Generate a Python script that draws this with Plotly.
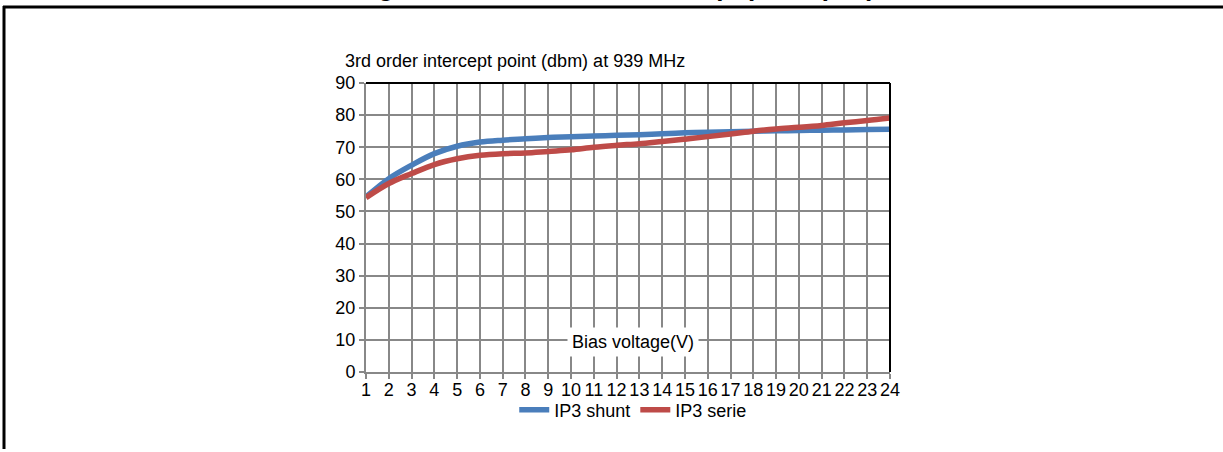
import plotly.graph_objects as go

# ---- data ----
bias_voltage = list(range(1, 25))
ip3_shunt = [54.5, 60.2, 64.4, 68.0, 70.3, 71.6, 72.2, 72.6, 73.0, 73.3, 73.5, 73.7,
             73.9, 74.2, 74.5, 74.7, 74.8, 75.0, 75.1, 75.2, 75.3, 75.4, 75.5, 75.6]
ip3_serie = [54.3, 58.7, 61.8, 64.6, 66.4, 67.5, 68.0, 68.2, 68.7, 69.2, 70.0, 70.6,
             71.1, 71.8, 72.5, 73.3, 74.1, 75.0, 75.7, 76.2, 76.8, 77.6, 78.3, 79.1]
x_ticks = list(range(1, 25))
y_ticks = list(range(0, 91, 10))

W, H = 1223, 452
L, R, T, B = 366, 890, 83, 372


def px(x):
    return (x - L) / (R - L)


def py(y):
    return (B - y) / (B - T)


FONT = "Liberation Sans, Arial, sans-serif"
GRID = "#888888"

fig = go.Figure()
fig.add_trace(go.Scatter(x=bias_voltage, y=ip3_shunt, name="IP3 shunt", mode="lines",
                         line=dict(color="#4A7EBB", width=5.5, shape="spline")))
fig.add_trace(go.Scatter(x=bias_voltage, y=ip3_serie, name="IP3 serie", mode="lines",
                         line=dict(color="#BE4B48", width=5.5, shape="spline")))

fig.update_layout(
    width=W, height=H,
    margin=dict(l=L, r=W - R, t=T, b=H - B, pad=0),
    paper_bgcolor="white", plot_bgcolor="white",
    font=dict(family=FONT, size=18, color="black"),
    showlegend=True,
    legend=dict(orientation="h", x=0.51, xanchor="center", y=py(410), yanchor="middle",
                font=dict(size=18), itemwidth=30, tracegroupgap=0,
                bgcolor="rgba(0,0,0,0)"),
    xaxis=dict(range=[1, 24], tickvals=x_ticks, ticktext=[str(v) for v in x_ticks],
               showgrid=True, gridcolor=GRID, gridwidth=2,
               showline=True, linecolor=GRID, linewidth=2,
               ticks="outside", ticklen=5, tickwidth=2, tickcolor=GRID,
               ticklabelstandoff=-5,
               tickfont=dict(size=18), zeroline=False, fixedrange=True),
    yaxis=dict(range=[0, 90], tickvals=y_ticks,
               showgrid=True, gridcolor=GRID, gridwidth=2,
               showline=True, linecolor=GRID, linewidth=2,
               ticks="outside", ticklen=5, tickwidth=2, tickcolor=GRID,
               tickfont=dict(size=18), zeroline=False, fixedrange=True),
    shapes=[
        # top and right plot border
        dict(type="line", xref="paper", yref="paper", x0=0, x1=1, y0=1, y1=1,
             line=dict(color="black", width=2)),
        dict(type="line", xref="paper", yref="paper", x0=1, x1=1, y0=0, y1=1,
             line=dict(color="black", width=2)),
        # page frame
        dict(type="line", xref="paper", yref="paper", x0=px(3), x1=px(1223), y0=py(7), y1=py(7),
             line=dict(color="black", width=3)),
        dict(type="line", xref="paper", yref="paper", x0=px(4), x1=px(4), y0=py(6), y1=py(449),
             line=dict(color="black", width=3)),
    ],
    annotations=[
        dict(text="3rd order intercept point (dbm) at 939 MHz", xref="paper", yref="paper",
             x=px(343), y=py(61), xanchor="left", yanchor="middle", showarrow=False,
             font=dict(size=18)),
        dict(text="Bias voltage(V)", xref="paper", yref="paper",
             x=px(633), y=py(342), xanchor="center", yanchor="middle", showarrow=False,
             bgcolor="white", borderpad=4, font=dict(size=18)),
        dict(text="<b>Figure 10. Third order intercept point (IP3)</b>", xref="paper", yref="paper",
             x=px(615), y=py(-12.6), xanchor="center", yanchor="middle", showarrow=False,
             font=dict(size=26)),
    ],
)

fig.write_html("out.html", config={"displayModeBar": False},
               post_script="document.body.style.margin='0';")
